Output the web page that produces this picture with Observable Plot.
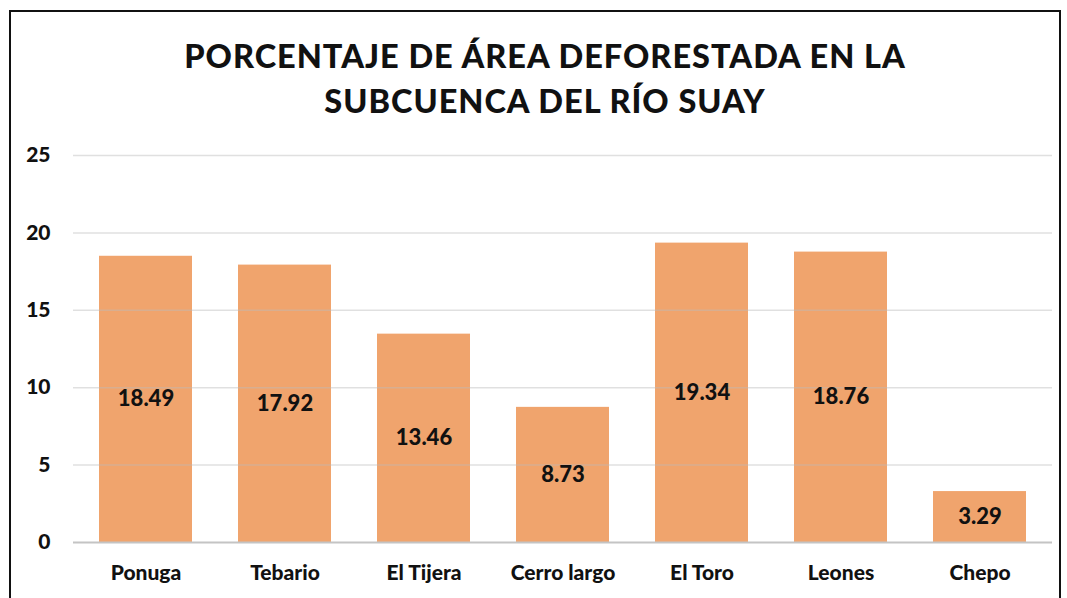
<!DOCTYPE html>
<html><head><meta charset="utf-8">
<script src="https://cdn.jsdelivr.net/npm/d3@7"></script>
<script src="https://cdn.jsdelivr.net/npm/@observablehq/plot@0.6"></script>
<style>
html,body{margin:0;padding:0;background:#fff;width:1067px;height:598px;overflow:hidden;font-family:Lato,"Open Sans",sans-serif;}
#frame{position:absolute;left:9px;top:10px;width:1052px;height:620px;border:2px solid #111;border-bottom:none;box-sizing:border-box;}
#title{position:absolute;left:0;top:33px;width:1090px;text-align:center;font-weight:900;font-size:32.5px;line-height:45px;letter-spacing:1px;color:#111;}
#chart{position:absolute;left:0;top:0;}
</style></head>
<body>
<div id="frame"></div>
<div id="chart"></div>
<div id="title">PORCENTAJE DE ÁREA DEFORESTADA EN LA<br>SUBCUENCA DEL RÍO SUAY</div>
<script>
const categories = ["Ponuga","Tebario","El Tijera","Cerro largo","El Toro","Leones","Chepo"];
const values = [18.49,17.92,13.46,8.73,19.34,18.76,3.29];
const yTicks = [0,5,10,15,20,25];
const data = categories.map((c,i)=>({cat:c, v:values[i]}));
const chart = Plot.plot({
  width:1067, height:598,
  marginLeft:73, marginRight:15, marginTop:155, marginBottom:56,
  style:{fontFamily:"Lato, 'Open Sans', sans-serif", background:"transparent"},
  x:{domain:categories, paddingInner:0.33, paddingOuter:0.165, label:null},
  y:{domain:[0,25], label:null},
  marks:[
    Plot.barY(data,{x:"cat", y:"v", fill:"#F0A46D"}),
    Plot.ruleY(yTicks.filter(t=>t>0),{stroke:"#bbb", strokeOpacity:0.45, strokeWidth:1.5}),
    Plot.ruleY([0],{stroke:"#c4c4c4", strokeWidth:2}),
    Plot.axisY({ticks:yTicks, tickSize:0, tickPadding:23, fontSize:21, fontWeight:900, fill:"#111", label:null}),
    Plot.axisX({tickSize:0, tickPadding:23, fontSize:21, fontWeight:900, fill:"#111", label:null}),
    Plot.text(data,{x:"cat", y:d=>d.v/2, text:d=>d.v.toFixed(2), fontSize:22, fontWeight:900, fill:"#111"})
  ]
});
document.getElementById("chart").appendChild(chart);
</script>
</body></html>
